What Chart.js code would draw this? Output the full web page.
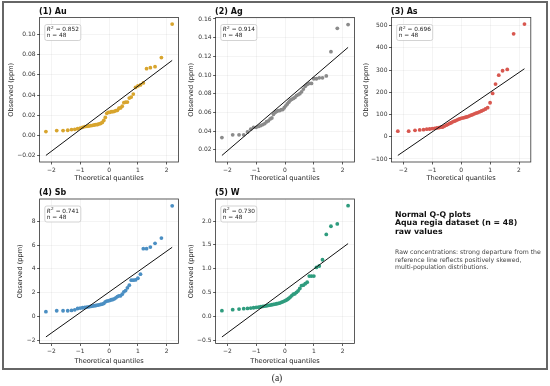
<!DOCTYPE html>
<html>
<head>
<meta charset="utf-8">
<script src="https://cdn.jsdelivr.net/npm/chart.js@4.4.1/dist/chart.umd.min.js"></script>
<style>
  html, body { margin: 0; padding: 0; background: #fff; }
  #page { position: relative; width: 550px; height: 386px; overflow: hidden; background: #fff; }
  #page canvas { position: absolute; left: 0; top: 0; }
  #frame { position: absolute; left: 2px; top: 1px; width: 546px; height: 369px;
           box-sizing: border-box; border: 2px solid #666; }
  #heading { position: absolute; left: 395px; top: 210.5px; white-space: nowrap;
             font: bold 7.8px/8.7px "DejaVu Sans"; color: #111; }
  #remark { position: absolute; left: 395px; top: 248.2px; white-space: nowrap;
            font: 6.2px/7.6px "DejaVu Sans"; color: #444; }
  #caption { position: absolute; left: 257px; width: 40px; top: 372px; text-align: center;
             font: 9.5px/12px "Liberation Serif"; color: #222; }
</style>
</head>
<body>
<div id="page">
  <div id="frame"></div>
  <canvas id="c1" width="550" height="386"></canvas>
  <canvas id="c2" width="550" height="386"></canvas>
  <canvas id="c3" width="550" height="386"></canvas>
  <canvas id="c4" width="550" height="386"></canvas>
  <canvas id="c5" width="550" height="386"></canvas>
  <div id="heading">Normal Q-Q plots<br>Aqua regia dataset (n = 48)<br>raw values</div>
  <div id="remark">Raw concentrations: strong departure from the<br>reference line reflects positively skewed,<br>multi-population distributions.</div>
  <div id="caption">(a)</div>
</div>
<script>
// ===============================
// DATA
// ===============================
const theoreticalQ = [-2.188, -1.814, -1.594, -1.432, -1.300, -1.188, -1.089, -1.000, -0.917, -0.841,
  -0.769, -0.702, -0.637, -0.574, -0.514, -0.456, -0.399, -0.343, -0.289, -0.235, -0.182, -0.130,
  -0.078, -0.026, 0.026, 0.078, 0.130, 0.182, 0.235, 0.289, 0.343, 0.399, 0.456, 0.514, 0.574,
  0.637, 0.702, 0.769, 0.841, 0.917, 1.000, 1.089, 1.188, 1.300, 1.432, 1.594, 1.814, 2.188];

const auObs = [0.004, 0.005, 0.005, 0.0053, 0.006, 0.0062, 0.0068, 0.0075, 0.0082, 0.0089, 0.0092,
  0.0095, 0.0098, 0.0102, 0.0105, 0.0108, 0.011, 0.0115, 0.012, 0.013, 0.015, 0.018, 0.022, 0.023,
  0.023, 0.0236, 0.0236, 0.024, 0.0246, 0.025, 0.027, 0.0273, 0.029, 0.0325, 0.033, 0.0331, 0.037,
  0.038, 0.041, 0.0475, 0.049, 0.050, 0.052, 0.066, 0.067, 0.068, 0.077, 0.110];
const agObs = [0.033, 0.036, 0.036, 0.036, 0.039, 0.042, 0.044, 0.044, 0.045, 0.046, 0.047, 0.048,
  0.050, 0.051, 0.053, 0.054, 0.058, 0.060, 0.061, 0.062, 0.062, 0.063, 0.063, 0.065, 0.067, 0.069,
  0.071, 0.073, 0.074, 0.075, 0.076, 0.078, 0.079, 0.080, 0.082, 0.085, 0.088, 0.090, 0.091, 0.091,
  0.096, 0.096, 0.097, 0.097, 0.099, 0.125, 0.150, 0.154];
const asObs = [25, 25, 29, 31, 32, 34, 35, 37, 38, 40, 41, 43, 44, 48, 52, 56, 60, 63, 67, 70, 73,
  76, 79, 82, 84, 85, 87, 89, 91, 94, 97, 100, 103, 106, 109, 112, 116, 120, 125, 131, 153, 195,
  237, 277, 297, 303, 463, 507];
const sbObs = [0.42, 0.5, 0.5, 0.5, 0.53, 0.58, 0.69, 0.72, 0.75, 0.78, 0.81, 0.83, 0.86, 0.89, 0.92,
  0.94, 0.97, 1.0, 1.03, 1.06, 1.11, 1.25, 1.31, 1.33, 1.36, 1.42, 1.44, 1.5, 1.58, 1.69, 1.75, 1.75,
  1.89, 2.08, 2.19, 2.42, 2.64, 3.06, 3.06, 3.08, 3.22, 3.56, 5.69, 5.69, 5.83, 6.14, 6.58, 9.28];
const wObs = [0.125, 0.146, 0.16, 0.167, 0.174, 0.18, 0.187, 0.194, 0.2, 0.208, 0.215, 0.222, 0.229,
  0.236, 0.243, 0.25, 0.257, 0.264, 0.271, 0.278, 0.285, 0.3, 0.31, 0.326, 0.34, 0.36, 0.38, 0.41,
  0.44, 0.47, 0.48, 0.51, 0.54, 0.59, 0.65, 0.66, 0.69, 0.72, 0.85, 0.85, 0.85, 1.03, 1.06, 1.19,
  1.72, 1.89, 1.94, 2.32];

// reference line values at the first and last theoretical quantile
const auFit = [-0.0195, 0.0742];
const agFit = [0.0139, 0.1296];
const asFit = [-84, 306];
const sbFit = [-1.69, 5.81];
const wFit = [-0.424, 1.528];

const panelTitles = ["(1) Au", "(2) Ag", "(3) As", "(4) Sb", "(5) W"];
const r2Values = ["0.852", "0.914", "0.696", "0.741", "0.730"];
const sampleSize = 48;

// axis ranges and tick steps
const xRange = [-2.407, 2.407];
const xStep = 1;
const yRanges = [[-0.026, 0.1165], [0.0069, 0.1616], [-113.5, 536.5], [-2.24, 9.85], [-0.56, 2.46]];
const ySteps = [0.02, 0.02, 100, 2, 0.5];
const yDecimals = [2, 2, 0, 0, 1];

// ===============================
// LAYOUT (page pixels)
// ===============================
// plot box: left, right, top, bottom, y-title centre x, x-title centre y
const panelBoxes = [
  [39.6, 178.5, 17.5, 162, 11.7, 178.5],
  [215.6, 354.4, 17.5, 162, 191.7, 178.5],
  [391.5, 530.8, 17.5, 162, 366, 178.5],
  [39.6, 178.5, 199, 343.5, 20, 361.3],
  [215.6, 354.4, 199, 343.5, 191, 361.3]
];
const pointColors = ["#d8a52e", "#8b8b8b", "#d8574f", "#4b8fc3", "#2f9c7e"];

const FONT = '"DejaVu Sans", sans-serif';
const AXIS_TITLE_SIZE = 6.6;
const HALF_LH = AXIS_TITLE_SIZE * 1.2 / 2;

function fmt(v, d) {
  return Number(v).toFixed(d).replace("-", "\u2212");
}

// spines, panel title and the R² box
const panelDecor = {
  id: "panelDecor",
  afterDraw(chart, args, opts) {
    const { ctx, chartArea: a } = chart;
    ctx.save();
    ctx.strokeStyle = "#333";
    ctx.lineWidth = 0.8;
    ctx.strokeRect(a.left, a.top, a.right - a.left, a.bottom - a.top);

    ctx.fillStyle = "#111";
    ctx.font = "bold 8px " + FONT;
    ctx.textBaseline = "middle";
    ctx.textAlign = "left";
    ctx.fillText(opts.title, a.left - 0.5, a.top - 6);

    // stats box
    const bx = a.left + 5.2, by = a.top + 7, bw = 36, bh = 16;
    ctx.beginPath();
    ctx.roundRect(bx, by, bw, bh, 2);
    ctx.fillStyle = "rgba(255,255,255,0.9)";
    ctx.fill();
    ctx.strokeStyle = "#c8c8c8";
    ctx.lineWidth = 0.8;
    ctx.stroke();

    ctx.fillStyle = "#222";
    let x = bx + 2;
    const y1 = by + 5, y2 = by + 11.2;
    ctx.font = "italic 5.8px " + FONT;
    ctx.fillText("R", x, y1);
    x += ctx.measureText("R").width;
    ctx.font = "4.2px " + FONT;
    ctx.fillText("2", x + 0.2, y1 - 1.8);
    x += ctx.measureText("2").width + 0.3;
    ctx.font = "5.8px " + FONT;
    ctx.fillText(" = " + opts.r2, x, y1);
    ctx.fillText("n = " + opts.n, bx + 2, y2);
    ctx.restore();
  }
};

const observed = [auObs, agObs, asObs, sbObs, wObs];
const fits = [auFit, agFit, asFit, sbFit, wFit];

observed.forEach((obs, i) => {
  const [L, R, T, B, yTitleX, xTitleY] = panelBoxes[i];
  const padLeft = yTitleX - HALF_LH;
  const yWidth = L - padLeft;
  const scaleBottom = xTitleY + HALF_LH;
  const xHeight = scaleBottom - B;
  const last = theoreticalQ.length - 1;

  new Chart(document.getElementById("c" + (i + 1)), {
    type: "scatter",
    data: {
      datasets: [
        {
          data: [{ x: theoreticalQ[0], y: fits[i][0] }, { x: theoreticalQ[last], y: fits[i][1] }],
          showLine: true,
          borderColor: "#111",
          borderWidth: 1,
          pointRadius: 0
        },
        {
          data: theoreticalQ.map((q, k) => ({ x: q, y: obs[k] })),
          backgroundColor: pointColors[i],
          borderWidth: 0,
          pointRadius: 1.9
        }
      ]
    },
    options: {
      responsive: false,
      animation: false,
      events: [],
      layout: {
        padding: { left: padLeft, right: 550 - R, top: T, bottom: 386 - scaleBottom }
      },
      plugins: {
        legend: { display: false },
        tooltip: { enabled: false },
        panelDecor: { title: panelTitles[i], r2: r2Values[i], n: sampleSize }
      },
      scales: {
        x: {
          type: "linear",
          min: xRange[0],
          max: xRange[1],
          afterFit: s => { s.height = xHeight; },
          border: { display: false },
          grid: { color: "rgba(0,0,0,0.08)", lineWidth: 0.6, tickLength: 2.5, tickColor: "#333", tickWidth: 0.8 },
          ticks: {
            stepSize: xStep, includeBounds: false, padding: 2, maxRotation: 0,
            color: "#333", font: { family: FONT, size: 6 },
            callback: v => fmt(v, 0)
          },
          title: {
            display: true, text: "Theoretical quantiles", color: "#222",
            padding: 0, font: { family: FONT, size: AXIS_TITLE_SIZE, lineHeight: 1.2 }
          }
        },
        y: {
          type: "linear",
          min: yRanges[i][0],
          max: yRanges[i][1],
          afterFit: s => { s.width = yWidth; },
          border: { display: false },
          grid: { color: "rgba(0,0,0,0.08)", lineWidth: 0.6, tickLength: 2.5, tickColor: "#333", tickWidth: 0.8 },
          ticks: {
            stepSize: ySteps[i], includeBounds: false, padding: 1.5,
            color: "#333", font: { family: FONT, size: 6 },
            callback: v => fmt(v, yDecimals[i])
          },
          title: {
            display: true, text: "Observed (ppm)", color: "#222",
            padding: 0, font: { family: FONT, size: AXIS_TITLE_SIZE, lineHeight: 1.2 }
          }
        }
      }
    },
    plugins: [panelDecor]
  });
});
</script>
</body>
</html>
